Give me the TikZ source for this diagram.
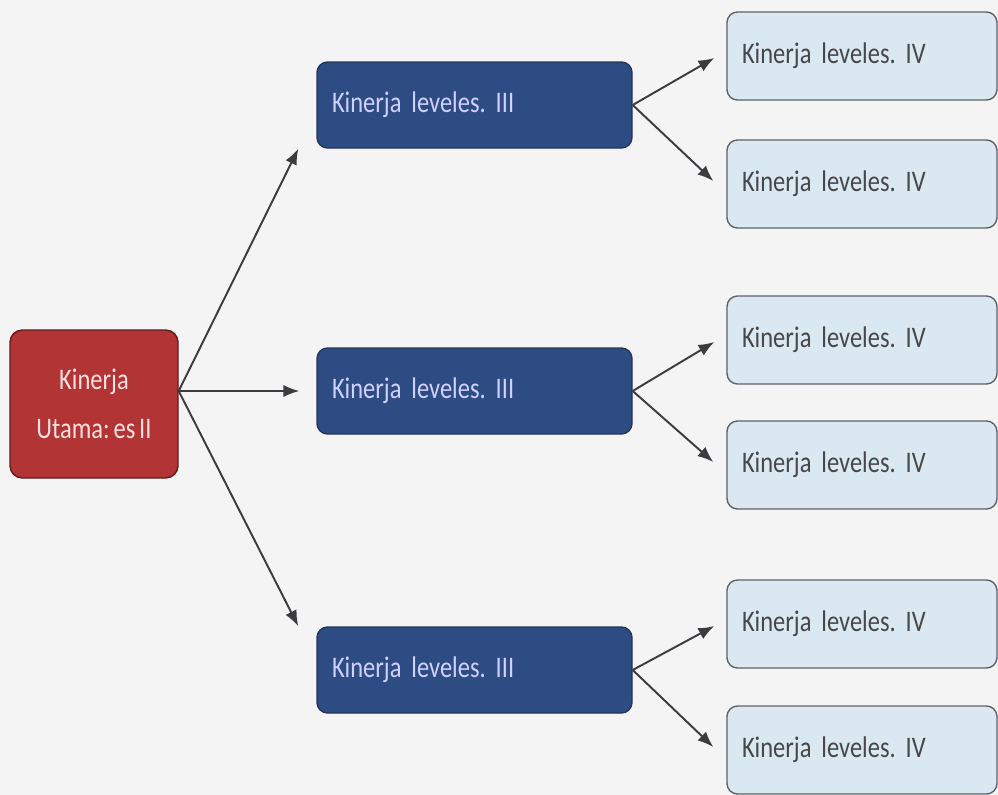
\documentclass[tikz,border=0pt]{standalone}
\usepackage{fontspec}
\setmainfont{Carlito}[FakeStretch=0.82,WordSpace=0.7]
\frenchspacing
\usepackage{tikz}
\usetikzlibrary{positioning}
\usetikzlibrary{arrows,arrows.meta,shapes}
\usetikzlibrary{calc}

\definecolor{bgpaper}{RGB}{244,244,245}
\definecolor{redfill}{RGB}{178,52,52}
\definecolor{redline}{RGB}{95,30,30}
\definecolor{bluefill}{RGB}{46,76,132}
\definecolor{blueline}{RGB}{38,52,88}
\definecolor{lightfill}{RGB}{218,232,242}
\definecolor{lightline}{RGB}{95,98,104}
\definecolor{arrowgray}{RGB}{60,60,64}

\tikzset{
  utamabox/.style={draw=redline, fill=redfill, thick, rounded corners=7pt,
    minimum width=3.36cm, minimum height=2.96cm, align=center,
    text=white!88!red, font=\fontsize{17}{28}\selectfont},
  es3box/.style={draw=blueline, fill=bluefill, thick, rounded corners=6pt,
    minimum width=6.3cm, minimum height=1.72cm, text width=5.7cm, align=left,
    text=white!82!blue, font=\fontsize{17}{20}\selectfont},
  es4box/.style={draw=lightline, fill=lightfill, thick, rounded corners=6pt,
    minimum width=5.4cm, minimum height=1.76cm, text width=4.8cm, align=left,
    text=black!72, font=\fontsize{17}{20}\selectfont},
  link/.style={draw=arrowgray, -{Latex[length=9pt,width=7pt]}, line width=1.1pt}
}

\begin{document}
\begin{tikzpicture}

 \fill[bgpaper] (0,0) rectangle (19.96,-15.9);
 \useasboundingbox (0,0) rectangle (19.96,-15.9);

 %level 2
 \node[utamabox] (utama) at (1.88,-8.08) {Kinerja\\Utama: es II};

 %level 3
 \foreach \y/\n in {-2.1/es3a, -7.82/es3b, -13.4/es3c} {
     \node[es3box] (\n) at (9.49,\y) {Kinerja leveles. III};
 }

 %level 4
 \foreach \y/\n in {-1.12/es4a, -3.68/es4b, -6.8/es4c, -9.3/es4d, -12.48/es4e, -15.0/es4f} {
     \node[es4box] (\n) at (17.24,\y) {Kinerja leveles. IV};
 }

 % lines
 \coordinate (hub) at ($(utama.east)+(0,0.26)$);
 \draw[link] (hub) -- ([xshift=-0.36cm]es3a.south west);
 \draw[link] (hub) -- ([xshift=-0.34cm]es3b.west);
 \draw[link] (hub) -- ([xshift=-0.36cm]es3c.north west);

 \foreach \src/\up/\down in {es3a/es4a/es4b, es3b/es4c/es4d, es3c/es4e/es4f} {
     \draw[link] (\src.east) -- ([xshift=-0.24cm,yshift=-0.04cm]\up.west);
     \draw[link] (\src.east) -- ([xshift=-0.26cm,yshift=0.06cm]\down.west);
 }

\end{tikzpicture}
\end{document}
